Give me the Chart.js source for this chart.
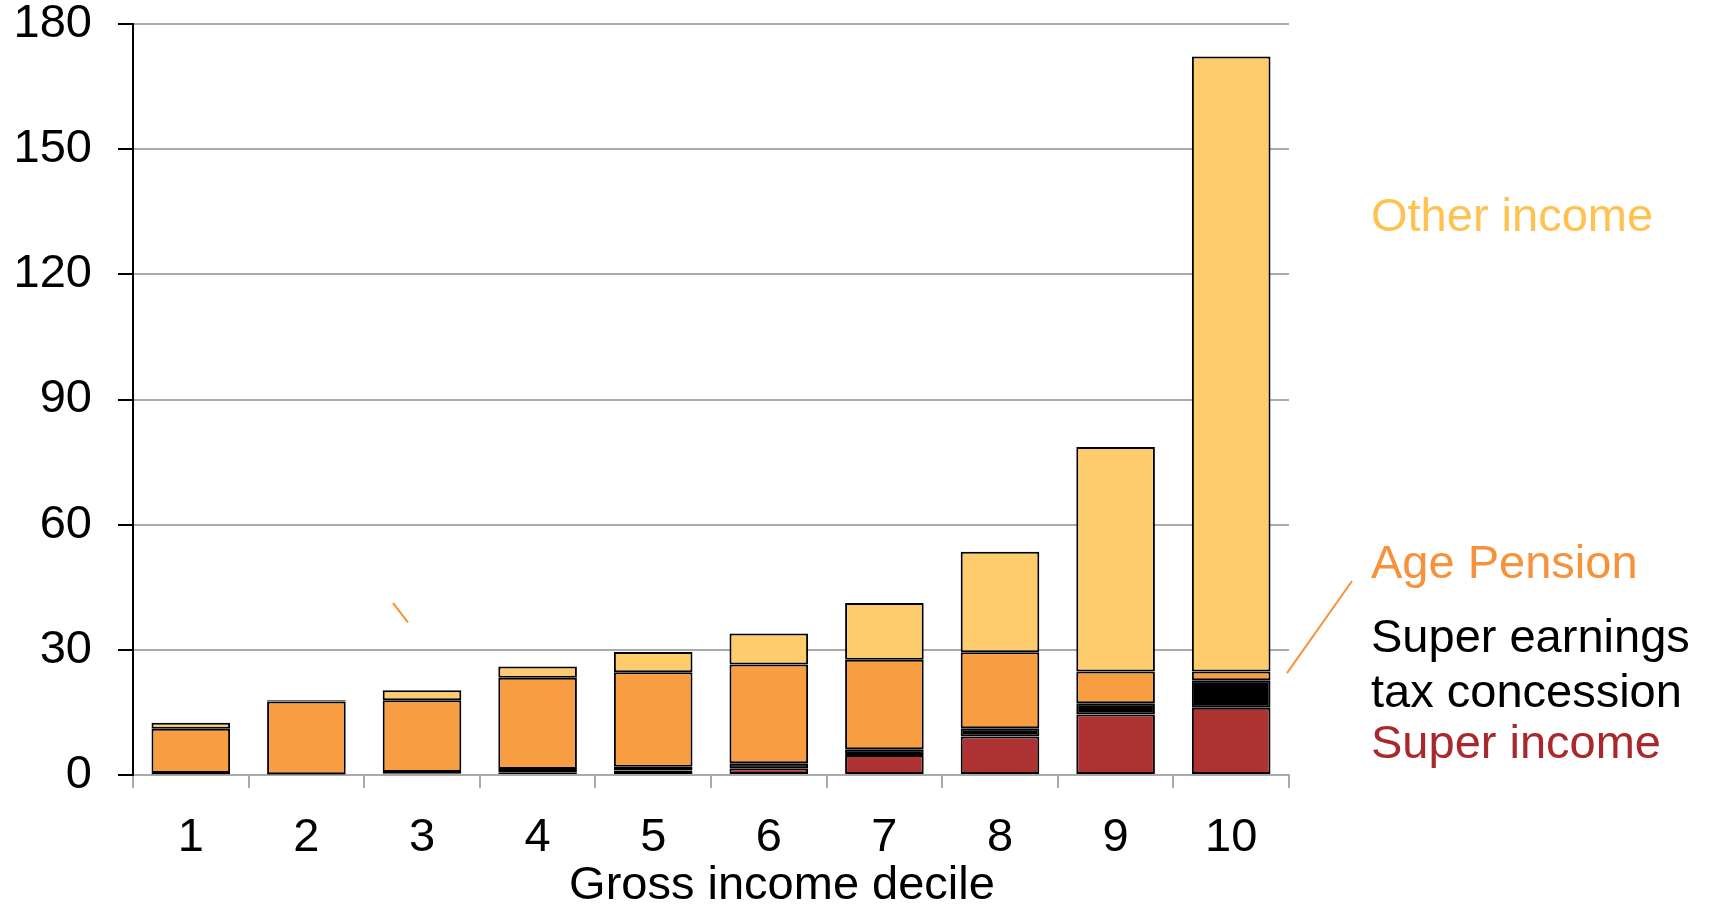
<!DOCTYPE html>
<html>
<head>
<meta charset="utf-8">
<script src="https://cdn.jsdelivr.net/npm/chart.js@4/dist/chart.umd.min.js"></script>
<style>
  html, body { margin: 0; padding: 0; background: #fff; }
  #wrap { width: 1710px; height: 908px; }
</style>
</head>
<body>
<div id="wrap"><canvas id="chart" width="1710" height="908"></canvas></div>
<script>
// income by gross income decile, $'000 per year
const deciles = ['1', '2', '3', '4', '5', '6', '7', '8', '9', '10'];
const superIncome = [0.2, 0.1, 0.3, 0.55, 1.05, 1.6, 4.8, 9.2, 14.5, 16.1];
const superConcession = [0.3, 0.1, 0.4, 0.9, 0.95, 1.2, 1.4, 2.0, 2.7, 6.6];
const agePension = [10.6, 17.4, 17.2, 21.85, 22.6, 23.7, 21.4, 18.2, 7.6, 2.1];
const otherIncome = [1.4, 0.3, 2.4, 2.7, 4.9, 7.4, 13.6, 24.1, 53.8, 147.4];
const yTicks = [0, 30, 60, 90, 120, 150, 180];
const xTitle = 'Gross income decile';

const FONT = 'Liberation Sans, Arial, sans-serif';
const grey = '#aaaaaa';

// labels on the right-hand side, placed by axis value
const sideLabels = [
  { text: 'Other income', value: 133.5, color: '#ffc24f' },
  { text: 'Age Pension', value: 50.3, color: '#f7923a' },
  { text: 'Super earnings', value: 32.6, color: '#000000' },
  { text: 'tax concession', value: 19.4, color: '#000000' },
  { text: 'Super income', value: 7.1, color: '#a8282c' }
];

const sideText = {
  id: 'sideText',
  afterDraw(chart) {
    const { ctx, chartArea, scales } = chart;
    const y = scales.y;
    const x = scales.x;
    ctx.save();
    ctx.font = '47px ' + FONT;
    ctx.textBaseline = 'middle';
    ctx.textAlign = 'left';
    sideLabels.forEach(l => {
      ctx.fillStyle = l.color;
      ctx.fillText(l.text, chartArea.right + 82, y.getPixelForValue(l.value));
    });
    // axis title, sitting a little right of the plot centre
    ctx.fillStyle = '#000';
    ctx.textAlign = 'center';
    ctx.fillText(xTitle, (chartArea.left + chartArea.right) / 2 + 71, chart.height - 22);
    // leader from the top decile's pension segment up to its label
    ctx.strokeStyle = '#f7923a';
    ctx.lineWidth = 2;
    ctx.beginPath();
    ctx.moveTo(chartArea.right - 2, y.getPixelForValue(24.4));
    ctx.lineTo(chartArea.right + 63, y.getPixelForValue(46.5));
    ctx.stroke();
    // small stray tick above decile 3
    ctx.beginPath();
    ctx.moveTo(x.getPixelForValue(2) - 29, y.getPixelForValue(41.2));
    ctx.lineTo(x.getPixelForValue(2) - 14, y.getPixelForValue(36.6));
    ctx.stroke();
    ctx.restore();
  }
};

function seg(label, data, color) {
  return {
    label, data,
    backgroundColor: color,
    borderColor: '#000',
    borderWidth: 2,
    borderSkipped: false,
    categoryPercentage: 1,
    barPercentage: 0.68
  };
}

new Chart(document.getElementById('chart'), {
  type: 'bar',
  data: {
    labels: deciles,
    datasets: [
      seg('Super income', superIncome, '#b03333'),
      seg('Super earnings tax concession', superConcession, '#000000'),
      seg('Age Pension', agePension, '#f89d42'),
      seg('Other income', otherIncome, '#fecc6c')
    ]
  },
  options: {
    responsive: false,
    animation: false,
    devicePixelRatio: 1,
    layout: { padding: { top: 24, right: 421, bottom: 0, left: 0 } },
    plugins: { legend: { display: false }, tooltip: { enabled: false } },
    scales: {
      x: {
        stacked: true,
        afterFit(scale) { scale.height = 133; },
        border: { color: grey, width: 2 },
        grid: { offset: true, drawOnChartArea: false, color: grey, lineWidth: 2, tickLength: 13 },
        ticks: { color: '#000', font: { family: FONT, size: 47 }, padding: 22 }
      },
      y: {
        stacked: true,
        min: 0,
        max: 180,
        afterFit(scale) {
          scale.width = 133;
          scale.paddingTop = 0;
          scale.paddingBottom = 0;
        },
        afterBuildTicks(scale) { scale.ticks = yTicks.map(v => ({ value: v })); },
        border: { color: '#000', width: 2 },
        grid: { color: grey, lineWidth: 2, tickColor: '#000', tickLength: 15 },
        ticks: { color: '#000', font: { family: FONT, size: 47 }, padding: 26 }
      }
    }
  },
  plugins: [sideText]
});
</script>
</body>
</html>
